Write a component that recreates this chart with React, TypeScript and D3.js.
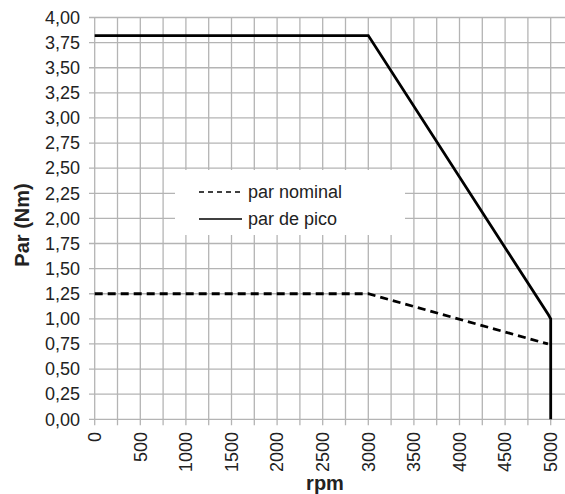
import React, { useEffect, useRef } from "react";
import * as d3 from "d3";

const W = 565;
const H = 494;

// rpm, torque (Nm)
const rpmPeak = [0, 3000, 4975, 5000, 5000];
const parPeak = [3.82, 3.82, 1.04, 1.0, 0];
const rpmNominal = [0, 3000, 4970];
const parNominal = [1.25, 1.25, 0.75];

const xTicks = [0, 500, 1000, 1500, 2000, 2500, 3000, 3500, 4000, 4500, 5000];
const xMinor = d3.range(0, 5251, 250);
const yTicks = d3.range(0, 4.001, 0.25);

const legendItems = [
  { label: "par nominal", dash: "5,4" },
  { label: "par de pico", dash: null },
];

const fmt = (v) => v.toFixed(2).replace(".", ",");

const App = () => {
  const ref = useRef(null);

  useEffect(() => {
    const svg = d3.select(ref.current);
    svg.selectAll("*").remove();

    const x = d3.scaleLinear().domain([0, 5250]).range([94.7, 573.5]);
    const y = d3.scaleLinear().domain([0, 4]).range([419.3, 17.5]);
    const grid = "#b4b4b4";
    const font = "Liberation Sans, Arial, sans-serif";

    // horizontal grid + y ticks
    yTicks.forEach((t) => {
      svg.append("line")
        .attr("x1", 89).attr("x2", W)
        .attr("y1", y(t)).attr("y2", y(t))
        .style("stroke", grid).style("stroke-width", 1.3);
      svg.append("text")
        .attr("x", 80).attr("y", y(t))
        .attr("dy", "0.35em")
        .attr("text-anchor", "end")
        .style("font", `18px ${font}`)
        .style("fill", "#222")
        .text(fmt(t));
    });

    // vertical grid + x ticks
    xMinor.forEach((t) => {
      svg.append("line")
        .attr("x1", x(t)).attr("x2", x(t))
        .attr("y1", y(4)).attr("y2", y(0) + 6)
        .style("stroke", grid).style("stroke-width", 1.3);
    });
    xTicks.forEach((t) => {
      svg.append("text")
        .attr("transform", `translate(${x(t)},${432}) rotate(-90)`)
        .attr("dy", "0.35em")
        .attr("text-anchor", "end")
        .style("font", `18px ${font}`)
        .style("fill", "#222")
        .text(t);
    });

    // legend box (hides grid)
    svg.append("rect")
      .attr("x", 175).attr("y", 170)
      .attr("width", 230).attr("height", 65)
      .style("fill", "white");

    const line = d3.line().x((d) => x(d[0])).y((d) => y(d[1]));

    svg.append("path")
      .datum(d3.zip(rpmNominal, parNominal))
      .attr("d", line)
      .style("fill", "none").style("stroke", "black")
      .style("stroke-width", 2.8)
      .style("stroke-dasharray", "8,5");

    svg.append("path")
      .datum(d3.zip(rpmPeak, parPeak))
      .attr("d", line)
      .style("fill", "none").style("stroke", "black")
      .style("stroke-width", 2.8);

    // legend entries
    legendItems.forEach((it, i) => {
      const ly = 192 + i * 27;
      svg.append("line")
        .attr("x1", 199).attr("x2", 242)
        .attr("y1", ly).attr("y2", ly)
        .style("stroke", "black").style("stroke-width", 1.6)
        .style("stroke-dasharray", it.dash);
      svg.append("text")
        .attr("x", 248).attr("y", ly)
        .attr("dy", "0.35em")
        .style("font", `18px ${font}`)
        .style("fill", "#222")
        .text(it.label);
    });

    // axis titles
    svg.append("text")
      .attr("transform", `translate(29,${225}) rotate(-90)`)
      .attr("text-anchor", "middle")
      .style("font", `bold 20px ${font}`)
      .style("fill", "#222")
      .text("Par (Nm)");
    svg.append("text")
      .attr("x", 325).attr("y", 490)
      .attr("text-anchor", "middle")
      .style("font", `bold 20px ${font}`)
      .style("fill", "#222")
      .text("rpm");
  }, []);

  return (
    <svg ref={ref} width={W} height={H}
      style={{ position: "absolute", left: 0, top: 0, background: "white" }} />
  );
};

export default App;
